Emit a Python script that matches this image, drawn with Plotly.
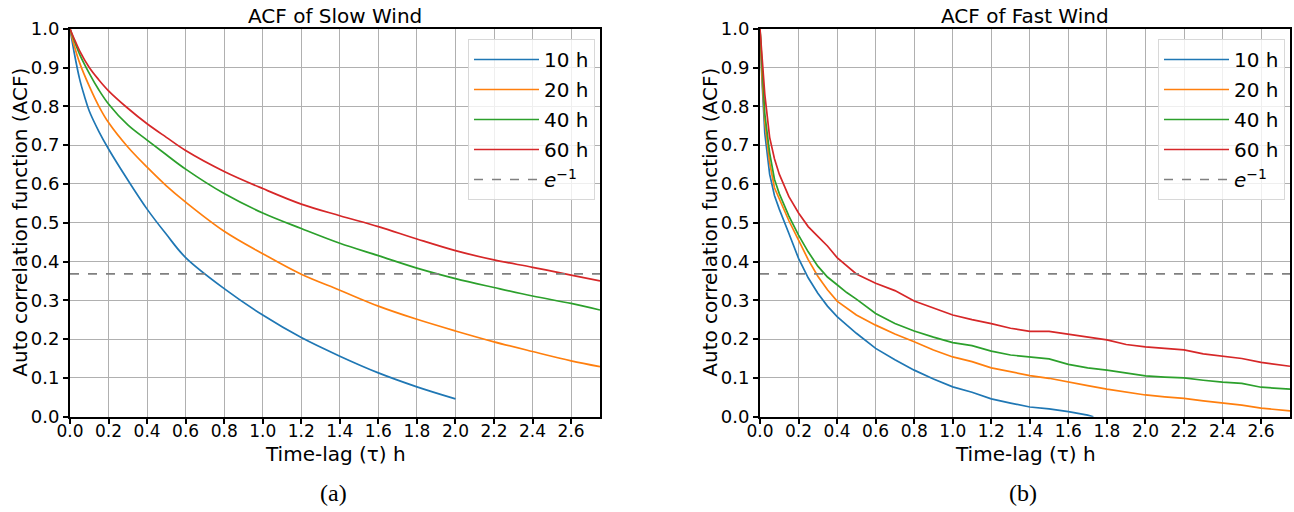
import plotly.graph_objects as go

W, H = 1294, 512

# ---------------- data ----------------
SERIES = ["10 h", "20 h", "40 h", "60 h"]
COLORS = ["#1f77b4", "#ff7f0e", "#2ca02c", "#d62728"]
E_INV = 0.3679

# Slow wind
slow_x_10 = [0, 0.02, 0.05, 0.075, 0.1, 0.15, 0.2, 0.3, 0.4, 0.5, 0.6, 0.8, 1.0, 1.2, 1.4, 1.6, 1.8, 2.0]
slow_y_10 = [1.0, 0.943, 0.87, 0.826, 0.788, 0.735, 0.69, 0.61, 0.535, 0.47, 0.41, 0.33, 0.262, 0.204, 0.156, 0.113, 0.077, 0.046]

slow_x = [0, 0.02, 0.05, 0.1, 0.15, 0.2, 0.3, 0.4, 0.5, 0.6, 0.8, 1.0, 1.2, 1.4, 1.6, 1.8, 2.0, 2.2, 2.4, 2.6, 2.75]
slow_y_20 = [1.0, 0.96, 0.912, 0.852, 0.8, 0.758, 0.695, 0.643, 0.595, 0.553, 0.478, 0.42, 0.367, 0.326, 0.285, 0.251, 0.221, 0.193, 0.168, 0.144, 0.129]
slow_y_40 = [1.0, 0.972, 0.934, 0.885, 0.842, 0.806, 0.752, 0.713, 0.675, 0.638, 0.575, 0.525, 0.485, 0.447, 0.415, 0.383, 0.356, 0.333, 0.311, 0.292, 0.275]
slow_y_60 = [1.0, 0.976, 0.943, 0.9, 0.868, 0.84, 0.795, 0.755, 0.72, 0.686, 0.632, 0.588, 0.548, 0.518, 0.49, 0.458, 0.428, 0.404, 0.385, 0.365, 0.35]

# Fast wind
fast_x_10 = [0, 0.01, 0.025, 0.05, 0.075, 0.1, 0.15, 0.2, 0.25, 0.3, 0.35, 0.4, 0.5, 0.6, 0.7, 0.8, 0.9, 1.0,
             1.1, 1.2, 1.3, 1.4, 1.5, 1.6, 1.7, 1.73]
fast_y_10 = [1.0, 0.87, 0.73, 0.625, 0.57, 0.535, 0.472, 0.408, 0.358, 0.318, 0.285, 0.258, 0.215, 0.176, 0.147, 0.12, 0.097, 0.077,
             0.063, 0.046, 0.035, 0.025, 0.02, 0.013, 0.004, 0.0]

fast_x = [0, 0.01, 0.025, 0.05, 0.075, 0.1, 0.15, 0.2, 0.25, 0.3, 0.35, 0.4, 0.45, 0.5, 0.6, 0.7, 0.8, 0.9, 1.0,
          1.1, 1.2, 1.3, 1.4, 1.5, 1.6, 1.7, 1.8, 1.9, 2.0, 2.1, 2.2, 2.3, 2.4, 2.5, 2.6, 2.75]
fast_y_20 = [1.0, 0.88, 0.76, 0.655, 0.59, 0.56, 0.505, 0.455, 0.405, 0.362, 0.327, 0.298, 0.279, 0.262, 0.236, 0.213, 0.193, 0.172, 0.154,
             0.142, 0.126, 0.116, 0.106, 0.099, 0.089, 0.08, 0.071, 0.064, 0.056, 0.051, 0.047, 0.041, 0.036, 0.03, 0.022, 0.015]
fast_y_40 = [1.0, 0.9, 0.78, 0.68, 0.612, 0.575, 0.517, 0.468, 0.425, 0.388, 0.36, 0.34, 0.32, 0.303, 0.266, 0.24, 0.221, 0.205, 0.191,
             0.183, 0.169, 0.159, 0.154, 0.149, 0.135, 0.126, 0.12, 0.113, 0.105, 0.102, 0.1, 0.094, 0.089, 0.086, 0.076, 0.071]
fast_y_60 = [1.0, 0.92, 0.83, 0.72, 0.665, 0.625, 0.567, 0.525, 0.49, 0.465, 0.44, 0.41, 0.39, 0.368, 0.344, 0.325, 0.298, 0.28, 0.262,
             0.25, 0.24, 0.228, 0.22, 0.22, 0.213, 0.206, 0.198, 0.186, 0.18, 0.176, 0.172, 0.162, 0.156, 0.15, 0.14, 0.13]

X_RANGE = [0, 2.75]
X_TICKS = [0.0, 0.2, 0.4, 0.6, 0.8, 1.0, 1.2, 1.4, 1.6, 1.8, 2.0, 2.2, 2.4, 2.6]
Y_TICKS = [0.0, 0.1, 0.2, 0.3, 0.4, 0.5, 0.6, 0.7, 0.8, 0.9, 1.0]

TITLES = ["ACF of Slow Wind", "ACF of Fast Wind"]
PANEL_LABELS = ["(a)", "(b)"]
XLABEL = "Time-lag (τ) h"
YLABEL = "Auto correlation function (ACF)"
E_LABEL = "<i>e</i><sup>−1</sup>"

# ---------------- layout helpers ----------------
FONT = "DejaVu Sans"
px = lambda v: v / W
py = lambda v: 1 - v / H

panels = [
    dict(x0=70, x1=600, xa="x", ya="y", legend="legend",
         data=[(slow_x_10, slow_y_10), (slow_x, slow_y_20), (slow_x, slow_y_40), (slow_x, slow_y_60)],
         shape="spline"),
    dict(x0=760, x1=1290, xa="x2", ya="y2", legend="legend2",
         data=[(fast_x_10, fast_y_10), (fast_x, fast_y_20), (fast_x, fast_y_40), (fast_x, fast_y_60)],
         shape="linear"),
]
Y_TOP, Y_BOT = 28.7, 416.7

fig = go.Figure()
for pi, p in enumerate(panels):
    for i, (xs, ys) in enumerate(p["data"]):
        fig.add_trace(go.Scatter(
            x=xs, y=ys, mode="lines", name=SERIES[i],
            line=dict(color=COLORS[i], width=1.7, shape=p["shape"], smoothing=1.0),
            xaxis=p["xa"], yaxis=p["ya"], legend=p["legend"], legendgroup=f"{pi}-{i}",
        ))
    fig.add_trace(go.Scatter(
        x=X_RANGE, y=[E_INV, E_INV], mode="lines", name=E_LABEL,
        line=dict(color="gray", width=1.7, dash="dash"),
        xaxis=p["xa"], yaxis=p["ya"], legend=p["legend"], legendgroup=f"{pi}-e",
    ))

axis_common = dict(
    showline=True, linewidth=2, linecolor="black", mirror=True,
    ticks="outside", ticklen=5, tickwidth=2, tickcolor="black",
    showgrid=True, gridcolor="#b0b0b0", gridwidth=1, zeroline=False,
    automargin=False,
)
xfont = dict(family=FONT, size=17, color="black")
yfont = dict(family=FONT, size=18, color="black")

legend_common = dict(
    bgcolor="rgba(255,255,255,0.8)", bordercolor="#d8d8d8", borderwidth=1,
    font=dict(family=FONT, size=20, color="black"),
    xanchor="left", yanchor="top", traceorder="grouped", tracegroupgap=1,
    itemwidth=65,
)

fig.update_layout(
    width=W, height=H, margin=dict(l=0, r=0, t=0, b=0, autoexpand=False),
    paper_bgcolor="white", plot_bgcolor="white",
    showlegend=True,
    xaxis=dict(domain=[px(70), px(600)], range=X_RANGE, tickvals=X_TICKS, tickformat=".1f", anchor="y",
               tickfont=xfont, ticklabelstandoff=-7, **axis_common),
    yaxis=dict(domain=[py(Y_BOT), py(Y_TOP)], range=[0, 1], tickvals=Y_TICKS, tickformat=".1f", anchor="x",
               tickfont=yfont, **axis_common),
    xaxis2=dict(domain=[px(760), px(1290)], range=X_RANGE, tickvals=X_TICKS, tickformat=".1f", anchor="y2",
                tickfont=xfont, ticklabelstandoff=-7, **axis_common),
    yaxis2=dict(domain=[py(Y_BOT), py(Y_TOP)], range=[0, 1], tickvals=Y_TICKS, tickformat=".1f", anchor="x2",
                tickfont=yfont, **axis_common),
    legend=dict(x=px(468), y=py(39), **legend_common),
    legend2=dict(x=px(1158), y=py(39), **legend_common),
)

anns = []
for pi, p in enumerate(panels):
    cx = (p["x0"] + p["x1"]) / 2
    anns.append(dict(x=px(cx), y=py(16), xref="paper", yref="paper", text=TITLES[pi], showarrow=False,
                     xanchor="center", yanchor="middle", font=dict(family=FONT, size=20, color="black")))
    anns.append(dict(x=px(cx), y=py(454), xref="paper", yref="paper", text=XLABEL, showarrow=False,
                     xanchor="center", yanchor="middle", font=dict(family=FONT, size=20, color="black")))
    anns.append(dict(x=px(p["x0"] - 50), y=py((Y_TOP + Y_BOT) / 2), xref="paper", yref="paper", text=YLABEL,
                     showarrow=False, textangle=-90, xanchor="center", yanchor="middle",
                     font=dict(family=FONT, size=20, color="black")))
    anns.append(dict(x=px(cx - 2), y=py(493), xref="paper", yref="paper", text=PANEL_LABELS[pi], showarrow=False,
                     xanchor="center", yanchor="middle", font=dict(family="Liberation Serif", size=24, color="black")))
fig.update_layout(annotations=anns)

fig.write_html("out.html")
